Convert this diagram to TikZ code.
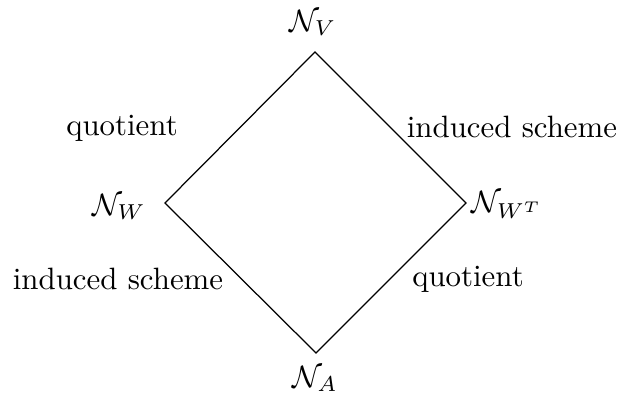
\documentclass[tikz,border=0pt]{standalone}
\begin{document}
\begin{tikzpicture}[x=0.324pt,y=-0.324pt,
  edge/.style={draw=black,line width=0.4pt},
  lbl/.style={inner sep=0pt,anchor=center}]
\useasboundingbox (0,0) rectangle (621,395);
\node[lbl] (nv) at (313,23) {$\mathcal{N}_V$};
\node[lbl] (nw) at (119,207) {$\mathcal{N}_W$};
\node[lbl] (nwt) at (507,205) {$\mathcal{N}_{W^T}$};
\node[lbl] (na) at (315,379) {$\mathcal{N}_A$};
\coordinate (t) at (315,52);
\coordinate (l) at (165,203);
\coordinate (r) at (466,203);
\coordinate (b) at (316,353);
\draw[edge] (l) -- (t) -- (r) -- (b) -- cycle;
\node[lbl] (q1) at (122,128) {quotient};
\node[lbl] (i1) at (512,127) {induced scheme};
\node[lbl] (i2) at (118,279) {induced scheme};
\node[lbl] (q2) at (468,279) {quotient};
\end{tikzpicture}
\end{document}
